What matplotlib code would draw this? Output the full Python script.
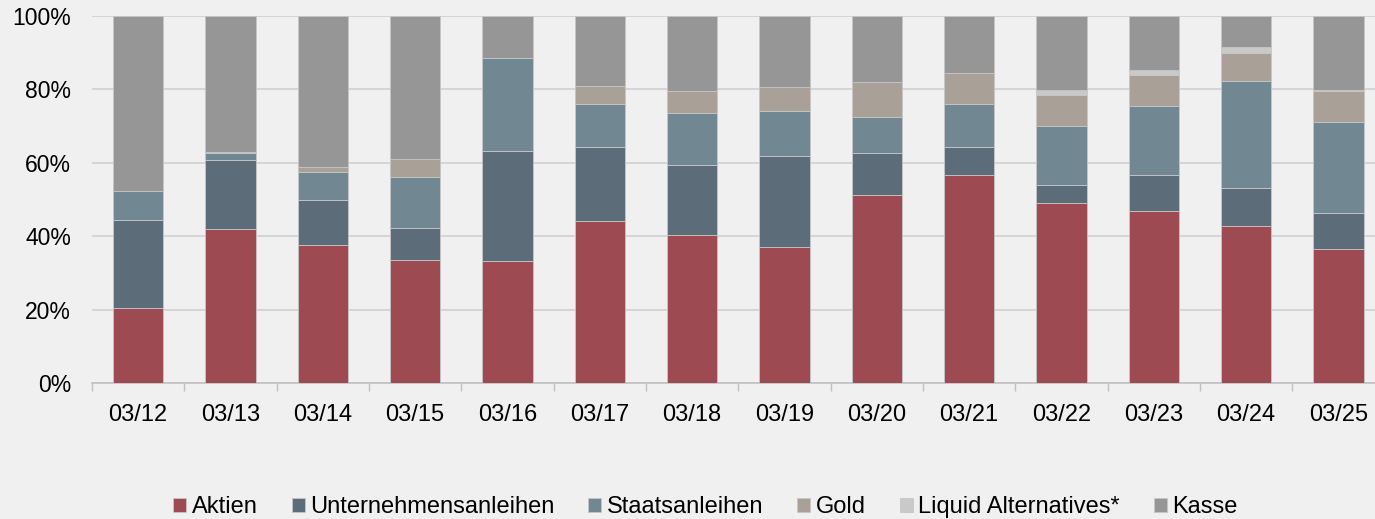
import numpy as np
import matplotlib.pyplot as plt
from matplotlib.ticker import PercentFormatter, FixedLocator

# Anteile je Stichtag (in %), von unten nach oben gestapelt
dates = ['03/12', '03/13', '03/14', '03/15', '03/16', '03/17', '03/18',
         '03/19', '03/20', '03/21', '03/22', '03/23', '03/24', '03/25']
aktien = [20.4, 41.9, 37.5, 33.5, 33.2, 44.1, 40.2, 37.0, 51.2, 56.8, 49.0, 46.8, 42.9, 36.5]
unternehmen = [24.1, 18.9, 12.4, 8.8, 30.1, 20.2, 19.1, 24.9, 11.4, 7.4, 4.9, 9.8, 10.2, 9.8]
staaten = [7.7, 2.0, 7.5, 13.7, 25.3, 11.6, 14.4, 12.1, 10.0, 11.7, 16.0, 19.0, 29.3, 24.8]
gold = [0.0, 0.2, 1.5, 5.0, 0.0, 5.0, 5.9, 6.6, 9.4, 8.6, 8.6, 8.4, 7.6, 8.4]
liquid = [0.0, 0.0, 0.0, 0.0, 0.0, 0.0, 0.0, 0.0, 0.0, 0.0, 1.3, 1.2, 1.5, 0.4]

series = {
    'Aktien': aktien,
    'Unternehmensanleihen': unternehmen,
    'Staatsanleihen': staaten,
    'Gold': gold,
    'Liquid Alternatives*': liquid,
}
colors = ['#9e4a52', '#5c6d79', '#718893', '#a9a198', '#c9c9c9', '#959695']

plt.rcParams['font.family'] = ['Liberation Sans', 'DejaVu Sans']

fig = plt.figure(figsize=(13.75, 5.19), dpi=100, facecolor='#f0f0f0')
ax = fig.add_axes([92 / 1375, 136 / 519, (1384.6 - 92) / 1375, 367 / 519])
ax.set_facecolor('#f0f0f0')

x = np.arange(len(dates))
bottom = np.zeros(len(dates))
for (name, vals), c in zip(series.items(), colors):
    ax.bar(x, vals, 0.545, bottom=bottom, color=c, edgecolor='#c6c6c6',
           linewidth=0.6, label=name, zorder=3)
    bottom += np.array(vals)
# Kasse = Rest bis 100 %
kasse = 100 - bottom
ax.bar(x, kasse, 0.545, bottom=bottom, color=colors[-1], edgecolor='#c6c6c6',
       linewidth=0.6, label='Kasse', zorder=3)

ax.set_xlim(-0.5, len(dates) - 0.5)
ax.set_ylim(0, 100)
ax.set_yticks(np.arange(0, 101, 20))
ax.yaxis.set_major_formatter(PercentFormatter(decimals=0))
ax.set_xticks(x)
ax.set_xticklabels(dates)
ax.xaxis.set_minor_locator(FixedLocator(np.arange(-0.5, len(dates), 1)))
ax.tick_params(axis='x', which='major', length=0, pad=15, labelsize=17)
ax.tick_params(axis='x', which='minor', length=6, color='#c0c0c0', width=1)
ax.tick_params(axis='y', length=0, pad=15, labelsize=16.5)
ax.grid(axis='y', color='#d0d0d0', linewidth=1.2, zorder=0)
for s in ['top', 'right', 'left']:
    ax.spines[s].set_visible(False)
ax.spines['bottom'].set_color('#c0c0c0')
ax.spines['bottom'].set_linewidth(1.2)

fig.legend(loc='center', bbox_to_anchor=(0.513, 12 / 519),
           ncol=6, frameon=False, fontsize=17, handlelength=0.55, handleheight=0.55,
           handletextpad=0.22, columnspacing=1.45, borderaxespad=0)

fig.savefig('out.png', dpi=100, facecolor='#f0f0f0')
